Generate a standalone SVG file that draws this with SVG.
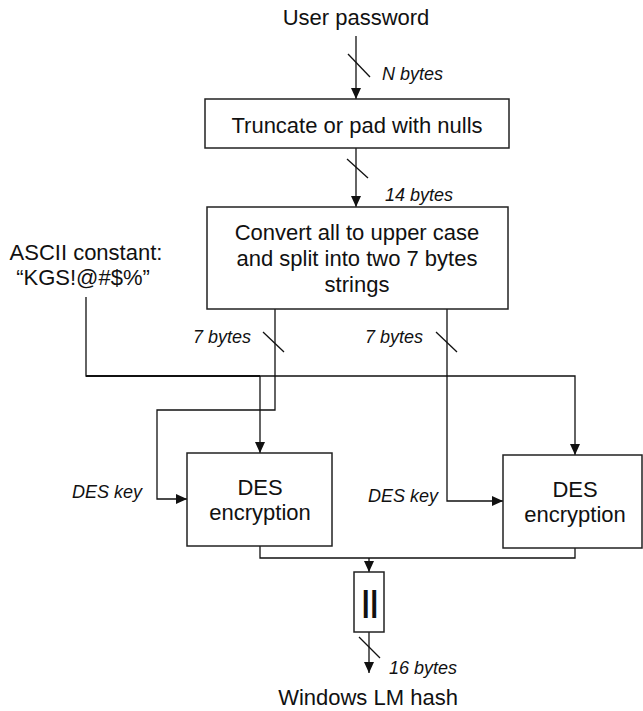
<svg xmlns="http://www.w3.org/2000/svg" width="643" height="711" viewBox="0 0 643 711">
<style>
.box{fill:#fff;stroke:#222;stroke-width:1.5}
.ln{fill:none;stroke:#111;stroke-width:1.3}
.arr{fill:none;stroke:#111;stroke-width:1.3;marker-end:url(#ah)}
.t{font-family:"Liberation Sans",Arial,sans-serif;font-size:22px;fill:#111;text-anchor:middle}
.lab{font-family:"Liberation Sans",Arial,sans-serif;font-size:18px;font-style:italic;fill:#111}
</style>
<defs>
<marker id="ah" markerUnits="userSpaceOnUse" markerWidth="12" markerHeight="12" viewBox="0 0 12 12" refX="11" refY="6" orient="auto">
<path d="M0,1 L11,6 L0,11 Z" fill="#111"/>
</marker>
</defs>
<rect width="643" height="711" fill="#fff"/>
<g id="connectors">
<path class="arr" d="M356,36 V99"/>
<path class="ln" d="M348,54 L370,77"/>
<path class="arr" d="M356,148 V207"/>
<path class="ln" d="M347,159 L368,178"/>
<path class="arr" d="M275,309 V410 H157 V499 H187"/>
<path class="ln" d="M263,332 L284,352"/>
<path class="arr" d="M447,309 V501 H503"/>
<path class="ln" d="M436,332 L457,352"/>
<path class="arr" d="M86,297 V376 H575 V455"/>
<path class="ln" d="M86,376 H260" style="stroke-width:2"/>
<path class="arr" d="M260,376 V453"/>
<path class="ln" d="M260,546 V558 H575 V548"/>
<path class="arr" d="M369,558 V572"/>
<path class="arr" d="M369,632 V673"/>
<path class="ln" d="M359,637 L380,658"/>
</g>
<g id="user-password"><text class="t" x="356" y="25">User password</text></g>
<g id="n-bytes"><text class="lab" x="382" y="80">N bytes</text></g>
<g id="truncate">
<rect class="box" x="205" y="99" width="304" height="49"/>
<text class="t" x="357" y="133">Truncate or pad with nulls</text>
</g>
<g id="bytes14"><text class="lab" x="385" y="201">14 bytes</text></g>
<g id="convert">
<rect class="box" x="207" y="207" width="301" height="102"/>
<text class="t" x="357" y="240">Convert all to upper case</text>
<text class="t" x="357" y="266">and split into two 7 bytes</text>
<text class="t" x="357" y="292">strings</text>
</g>
<g id="ascii">
<text class="t" x="86" y="260">ASCII constant:</text>
<text class="t" x="83" y="285">“KGS!@#$%”</text>
</g>
<g id="bytes7a"><text class="lab" x="193" y="343">7 bytes</text></g>
<g id="bytes7b"><text class="lab" x="365" y="343">7 bytes</text></g>
<g id="des1">
<rect class="box" x="187" y="453" width="145" height="93"/>
<text class="t" x="260" y="495">DES</text>
<text class="t" x="260" y="520">encryption</text>
</g>
<g id="deskey1"><text class="lab" x="72" y="498">DES key</text></g>
<g id="des2">
<rect class="box" x="503" y="455" width="139" height="93"/>
<text class="t" x="575" y="497">DES</text>
<text class="t" x="575" y="522">encryption</text>
</g>
<g id="deskey2"><text class="lab" x="368" y="502">DES key</text></g>
<g id="concat">
<rect class="box" x="354" y="572" width="30" height="60"/>
<text class="t" x="370" y="612" style="font-size:30px;font-weight:bold">||</text>
</g>
<g id="bytes16"><text class="lab" x="389" y="674">16 bytes</text></g>
<g id="lm-hash"><text class="t" x="368" y="705">Windows LM hash</text></g>
</svg>
